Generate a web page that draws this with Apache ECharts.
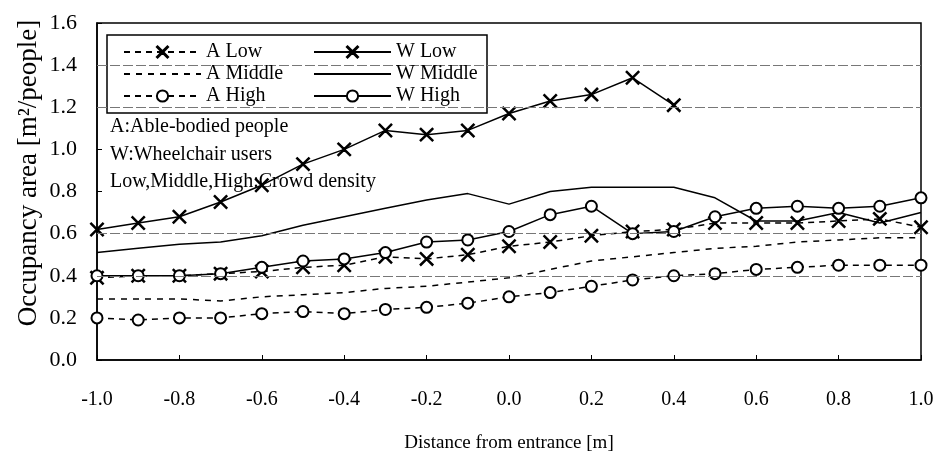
<!DOCTYPE html>
<html>
<head>
<meta charset="utf-8">
<script src="https://cdn.jsdelivr.net/npm/echarts@6/dist/echarts.min.js"></script>
<style>
  html, body { margin: 0; padding: 0; background: #fff; }
  #container { width: 934px; height: 452px; }
</style>
</head>
<body>
<div id="container"></div>
<script>
// 横轴：距入口的距离
var distances = [-1.0, -0.9, -0.8, -0.7, -0.6, -0.5, -0.4, -0.3, -0.2, -0.1, 0.0,
                 0.1, 0.2, 0.3, 0.4, 0.5, 0.6, 0.7, 0.8, 0.9, 1.0];

// 各组的占用面积
var aLow    = [0.39, 0.40, 0.40, 0.41, 0.42, 0.44, 0.45, 0.49, 0.48, 0.50, 0.54,
               0.56, 0.59, 0.61, 0.62, 0.65, 0.65, 0.65, 0.66, 0.67, 0.63];
var aMiddle = [0.29, 0.29, 0.29, 0.28, 0.30, 0.31, 0.32, 0.34, 0.35, 0.37, 0.39,
               0.43, 0.47, 0.49, 0.51, 0.53, 0.54, 0.56, 0.57, 0.58, 0.58];
var aHigh   = [0.20, 0.19, 0.20, 0.20, 0.22, 0.23, 0.22, 0.24, 0.25, 0.27, 0.30,
               0.32, 0.35, 0.38, 0.40, 0.41, 0.43, 0.44, 0.45, 0.45, 0.45];
var wLow    = [0.62, 0.65, 0.68, 0.75, 0.83, 0.93, 1.00, 1.09, 1.07, 1.09, 1.17,
               1.23, 1.26, 1.34, 1.21];
var wMiddle = [0.51, 0.53, 0.55, 0.56, 0.59, 0.64, 0.68, 0.72, 0.76, 0.79, 0.74,
               0.80, 0.82, 0.82, 0.82, 0.77, 0.66, 0.66, 0.70, 0.65, 0.70];
var wHigh   = [0.40, 0.40, 0.40, 0.41, 0.44, 0.47, 0.48, 0.51, 0.56, 0.57, 0.61,
               0.69, 0.73, 0.60, 0.61, 0.68, 0.72, 0.73, 0.72, 0.73, 0.77];

// 图中残留的水平网格线
var gridLevels = [0.4, 0.6, 1.2, 1.4];

var FONT = "'Liberation Serif', 'Times New Roman', serif";
// 细的叉号标记
var CROSS = 'path://M0,0.6L0.6,0L5,4.4L9.4,0L10,0.6L5.6,5L10,9.4L9.4,10L5,5.6L0.6,10L0,9.4L4.4,5Z';

function pairs(vals) {
    return vals.map(function (v, i) { return [distances[i], v]; });
}

function mkSeries(name, vals, dash, symbol, size) {
    return {
        name: name,
        type: 'line',
        data: pairs(vals),
        symbol: symbol || 'none',
        symbolSize: size || 10,
        showSymbol: !!symbol,
        color: '#000',
        lineStyle: { color: '#000', width: 1.5, type: dash },
        itemStyle: { color: '#000', borderColor: '#000', borderWidth: 1.4 },
        animation: false,
        z: 2
    };
}

var series = [
    mkSeries('A Low', aLow, [6, 5], CROSS, 13),
    mkSeries('A Middle', aMiddle, [6, 6]),
    mkSeries('A High', aHigh, [6, 5], 'emptyCircle', 11),
    mkSeries('W Low', wLow, 'solid', CROSS, 13),
    mkSeries('W Middle', wMiddle, 'solid'),
    mkSeries('W High', wHigh, 'solid', 'emptyCircle', 11)
];

series[1].markLine = {
    silent: true,
    symbol: ['none', 'none'],
    label: { show: false },
    lineStyle: { color: '#777', width: 1, type: [10, 3] },
    data: gridLevels.map(function (v) { return { yAxis: v }; })
};

var legendBase = {
    orient: 'vertical',
    top: 42,
    padding: 0,
    itemWidth: 77,
    itemHeight: 14,
    itemGap: 2,
    textStyle: { fontFamily: FONT, fontSize: 20, color: '#000', lineHeight: 20 },
    selectedMode: false,
    z: 6
};

var noMark = { opacity: 0 };

var myChart = echarts.init(document.getElementById('container'), null, { renderer: 'canvas' });

myChart.setOption({
    animation: false,
    backgroundColor: '#fff',
    grid: {
        left: 97, right: 13, top: 23, bottom: 92,
        outerBoundsMode: 'none',
        containLabel: false,
        show: true, borderColor: '#000', borderWidth: 1.5
    },
    xAxis: {
        type: 'value',
        min: -1, max: 1, interval: 0.2,
        name: 'Distance from entrance [m]',
        nameLocation: 'middle',
        nameGap: 74,
        nameTextStyle: { fontFamily: FONT, fontSize: 19, color: '#000' },
        axisLine: { onZero: false, lineStyle: { color: '#000', width: 1.5 } },
        axisTick: { inside: true, length: 5, lineStyle: { color: '#000' } },
        axisLabel: {
            margin: 30, fontFamily: FONT, fontSize: 20, color: '#000',
            formatter: function (v) { return v.toFixed(1); }
        },
        splitLine: { show: false }
    },
    yAxis: {
        type: 'value',
        min: 0, max: 1.6, interval: 0.2,
        axisLine: { show: true, onZero: false, lineStyle: { color: '#000', width: 1.5 } },
        axisTick: { show: true, inside: true, length: 5, lineStyle: { color: '#000' } },
        axisLabel: {
            margin: 20, fontFamily: FONT, fontSize: 22, color: '#000',
            formatter: function (v) { return v.toFixed(1); }
        },
        splitLine: { show: false }
    },
    legend: [
        Object.assign({}, legendBase, {
            left: 123,
            data: ['A Low', { name: 'A Middle', itemStyle: noMark }, 'A High']
        }),
        Object.assign({}, legendBase, {
            left: 313,
            data: ['W Low', { name: 'W Middle', itemStyle: noMark }, 'W High']
        })
    ],
    graphic: [
        {
            type: 'rect', z: 3,
            shape: { x: 107, y: 35, width: 380, height: 78 },
            style: { fill: '#fff', stroke: '#000', lineWidth: 1.5 }
        },
        {
            type: 'text', z: 5, x: 110, y: 127,
            style: { text: 'A:Able-bodied people', font: '20px ' + FONT, fill: '#000', verticalAlign: 'middle' }
        },
        {
            type: 'text', z: 5, x: 110, y: 155,
            style: { text: 'W:Wheelchair users', font: '20px ' + FONT, fill: '#000', verticalAlign: 'middle' }
        },
        {
            type: 'text', z: 5, x: 110, y: 182,
            style: { text: 'Low,Middle,High:Crowd density', font: '20px ' + FONT, fill: '#000', verticalAlign: 'middle' }
        },
        {
            type: 'text', z: 5, x: 29, y: 173, rotation: Math.PI / 2,
            style: { text: 'Occupancy area [m²/people]', font: '27px ' + FONT, fill: '#000', align: 'center', verticalAlign: 'middle' }
        }
    ],
    series: series
});
</script>
</body>
</html>
